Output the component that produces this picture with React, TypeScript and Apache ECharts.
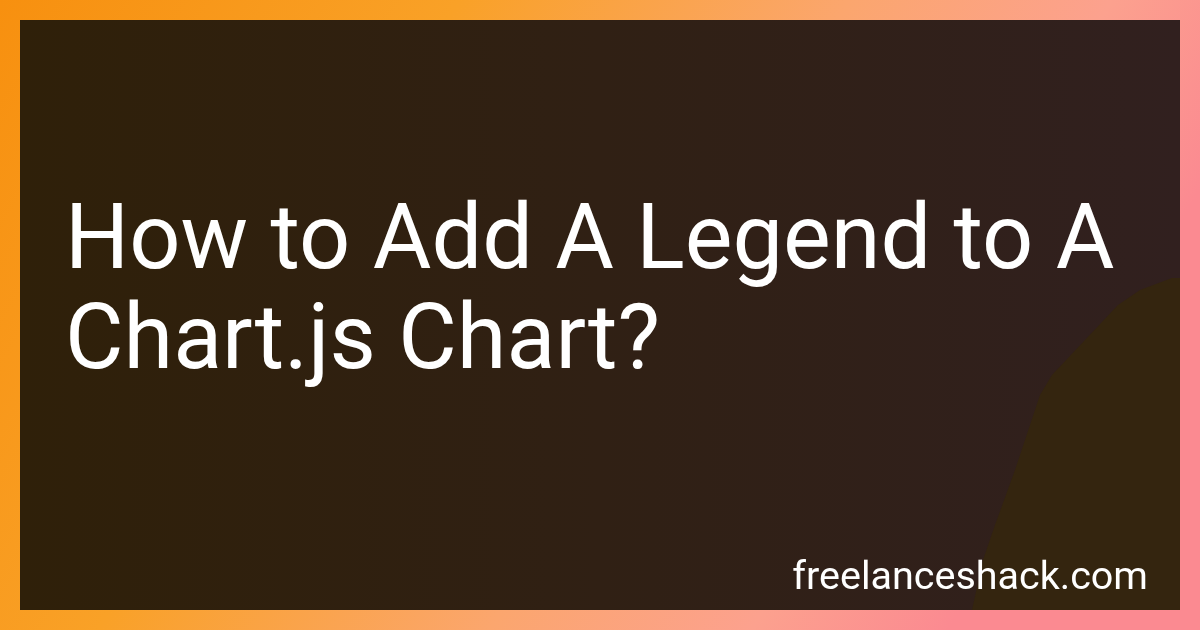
import React, { useEffect, useRef } from "react";
import * as echarts from "echarts";

const titleLines = ["How to Add A Legend to A", "Chart.js Chart?"];
const siteLabel = ["freelanceshack.com"];
const blobPoints: number[][] = [
  [1172, 278], [1140, 290], [1118, 305], [1085, 340], [1052, 375], [1040, 395],
  [1015, 470], [995, 525], [983, 560], [972, 610], [1180, 610], [1180, 278],
];

export default function App() {
  const ref = useRef<HTMLDivElement>(null);
  useEffect(() => {
    if (!ref.current) return;
    const chart = echarts.init(ref.current, undefined, { renderer: "svg", width: 1200, height: 630 });
    chart.setOption({
      animation: false,
      graphic: [
        {
          type: "rect",
          shape: { x: 0, y: 0, width: 1200, height: 630 },
          style: {
            fill: new echarts.graphic.LinearGradient(0, 0, 1, 0.3, [
              { offset: 0, color: "#f7900f" },
              { offset: 0.35, color: "#f9a127" },
              { offset: 0.65, color: "#fba66e" },
              { offset: 0.85, color: "#fca18e" },
              { offset: 1, color: "#fb8a91" },
            ]),
          },
          silent: true,
        },
        {
          type: "rect",
          shape: { x: 20, y: 20, width: 1160, height: 590 },
          style: {
            fill: new echarts.graphic.LinearGradient(0, 0, 1, 0, [
              { offset: 0, color: "#2f2009" },
              { offset: 1, color: "#31201f" },
            ]),
          },
          silent: true,
        },
        {
          type: "polygon",
          shape: { points: blobPoints },
          style: { fill: "#34250f" },
          silent: true,
        },
        ...titleLines.map((t, i) => ({
          type: "text",
          x: 65,
          y: 237 + i * 100,
          style: {
            text: t,
            fill: "#ffffff",
            font: "400 90px Roboto",
            align: "left",
            verticalAlign: "middle",
          },
          silent: true,
        })),
        {
          type: "text",
          x: 1148,
          y: 575,
          style: {
            text: siteLabel[0],
            fill: "#ffffff",
            font: "400 39.5px Roboto",
            align: "right",
            verticalAlign: "middle",
          },
          silent: true,
        },
      ],
    });
    return () => chart.dispose();
  }, []);
  return (
    <div
      ref={ref}
      style={{ position: "fixed", left: 0, top: 0, width: 1200, height: 630 }}
    />
  );
}
